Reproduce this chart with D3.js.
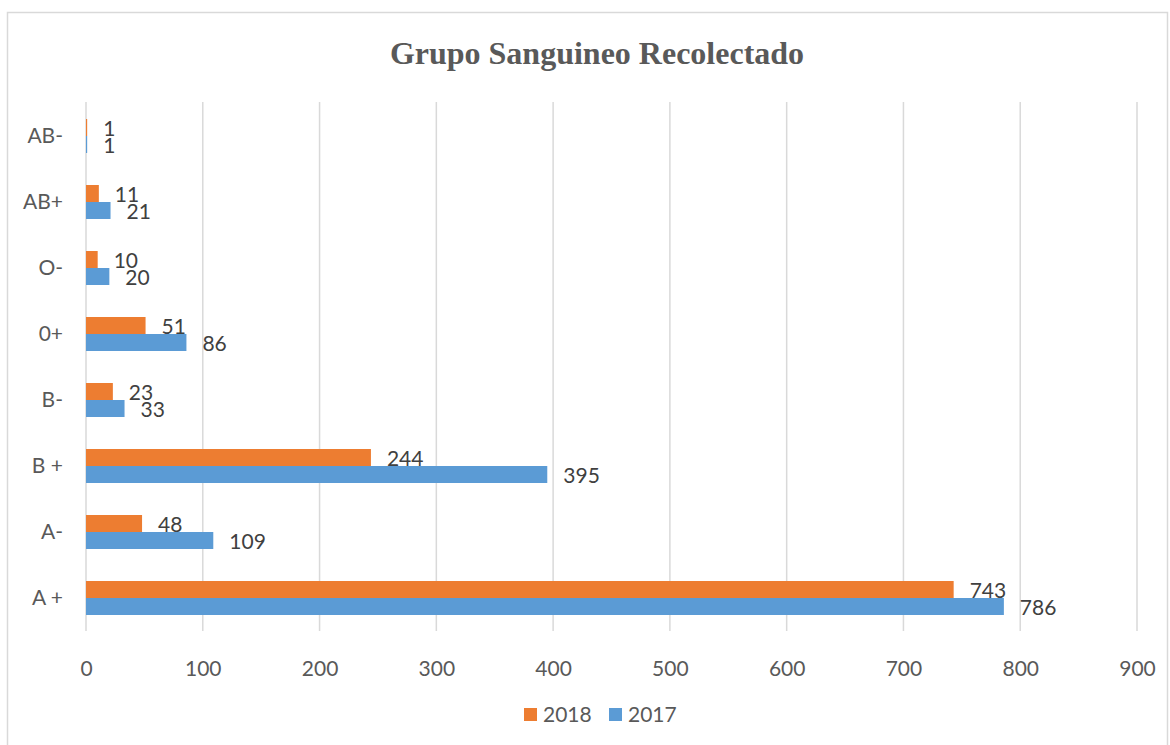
<!DOCTYPE html>
<html>
<head>
<meta charset="utf-8">
<script src="https://cdn.jsdelivr.net/npm/d3@7"></script>
<style>
  html, body { margin: 0; padding: 0; background: #fff; }
  svg { display: block; }
</style>
</head>
<body>
<svg id="chart" width="1170" height="745"></svg>
<script>
// Blood groups collected, by year
const categories = ["A +", "A-", "B +", "B-", "0+", "O-", "AB+", "AB-"];
const values2018 = [743, 48, 244, 23, 51, 10, 11, 1];
const values2017 = [786, 109, 395, 33, 86, 20, 21, 1];
const xTicks = [0, 100, 200, 300, 400, 500, 600, 700, 800, 900];
const seriesNames = ["2018", "2017"];
const seriesColors = ["#ed7d31", "#5b9bd5"];

const svg = d3.select("#chart");
const W = 1170, H = 745;

// Outer frame
svg.append("rect")
  .attr("x", 7.5).attr("y", 12.5)
  .attr("width", W - 10).attr("height", H)
  .attr("fill", "#fff").attr("stroke", "#d9d9d9").attr("stroke-width", 1.5);

// Title
svg.append("text")
  .attr("x", 597).attr("y", 64)
  .attr("text-anchor", "middle")
  .attr("font-family", "'Liberation Serif', 'Times New Roman', serif")
  .attr("font-weight", "bold")
  .attr("font-size", 32)
  .attr("fill", "#595959")
  .text("Grupo Sanguineo Recolectado");

const plot = { left: 86, right: 1137, top: 103, bottom: 631 };

const x = d3.scaleLinear().domain([0, 900]).range([plot.left, plot.right]);

// Categories run bottom to top: first category at the bottom
const y = d3.scaleBand()
  .domain(categories)
  .range([plot.bottom, plot.top])
  .paddingInner(0.485)
  .paddingOuter(0.2425);

const ySub = d3.scaleBand()
  .domain(seriesNames)
  .range([0, y.bandwidth()]);

// Vertical gridlines
svg.append("g")
  .selectAll("line")
  .data(xTicks)
  .join("line")
  .attr("x1", d => x(d)).attr("x2", d => x(d))
  .attr("y1", plot.top - 1).attr("y2", plot.bottom)
  .attr("stroke", "#d9d9d9").attr("stroke-width", 1.5);

// X axis tick labels
const xAxis = d3.axisBottom(x).tickValues(xTicks).tickSize(0).tickPadding(0);
const gx = svg.append("g")
  .attr("transform", `translate(0,${plot.bottom + 38})`)
  .call(xAxis);
gx.select(".domain").remove();
gx.selectAll("text")
  .attr("dy", "0.35em")
  .attr("font-family", "Lato, 'Open Sans', sans-serif")
  .attr("font-size", 21)
  .attr("fill", "#595959");

// Y axis category labels
const yAxis = d3.axisLeft(y).tickSize(0).tickPadding(0);
const gy = svg.append("g")
  .attr("transform", `translate(${plot.left - 23},0)`)
  .call(yAxis);
gy.select(".domain").remove();
gy.selectAll("text")
  .attr("font-family", "Lato, 'Open Sans', sans-serif")
  .attr("font-size", 21)
  .attr("fill", "#595959");

// Bars and value labels
const rows = categories.map((c, i) => ({
  cat: c,
  vals: [
    { name: seriesNames[0], v: values2018[i], color: seriesColors[0] },
    { name: seriesNames[1], v: values2017[i], color: seriesColors[1] }
  ]
}));

const groups = svg.append("g")
  .selectAll("g")
  .data(rows)
  .join("g")
  .attr("transform", d => `translate(0,${y(d.cat)})`);

groups.selectAll("rect")
  .data(d => d.vals)
  .join("rect")
  .attr("x", x(0))
  .attr("y", d => ySub(d.name))
  .attr("width", d => x(d.v) - x(0))
  .attr("height", ySub.bandwidth())
  .attr("fill", d => d.color);

groups.selectAll("text")
  .data(d => d.vals)
  .join("text")
  .attr("x", d => x(d.v) + 16)
  .attr("y", d => ySub(d.name) + ySub.bandwidth() / 2 + 1)
  .attr("dy", "0.35em")
  .attr("font-family", "Lato, 'Open Sans', sans-serif")
  .attr("font-size", 21)
  .attr("fill", "#404040")
  .text(d => d.v);

// Legend
const legend = svg.append("g").attr("transform", "translate(524,715)");
const legendItems = [
  { name: seriesNames[0], color: seriesColors[0], dx: 0 },
  { name: seriesNames[1], color: seriesColors[1], dx: 85 }
];
const li = legend.selectAll("g")
  .data(legendItems)
  .join("g")
  .attr("transform", d => `translate(${d.dx},0)`);
li.append("rect")
  .attr("x", 0).attr("y", -7)
  .attr("width", 13).attr("height", 13)
  .attr("fill", d => d.color);
li.append("text")
  .attr("x", 19).attr("y", 0)
  .attr("dy", "0.35em")
  .attr("font-family", "Lato, 'Open Sans', sans-serif")
  .attr("font-size", 21)
  .attr("fill", "#595959")
  .text(d => d.name);
</script>
</body>
</html>
